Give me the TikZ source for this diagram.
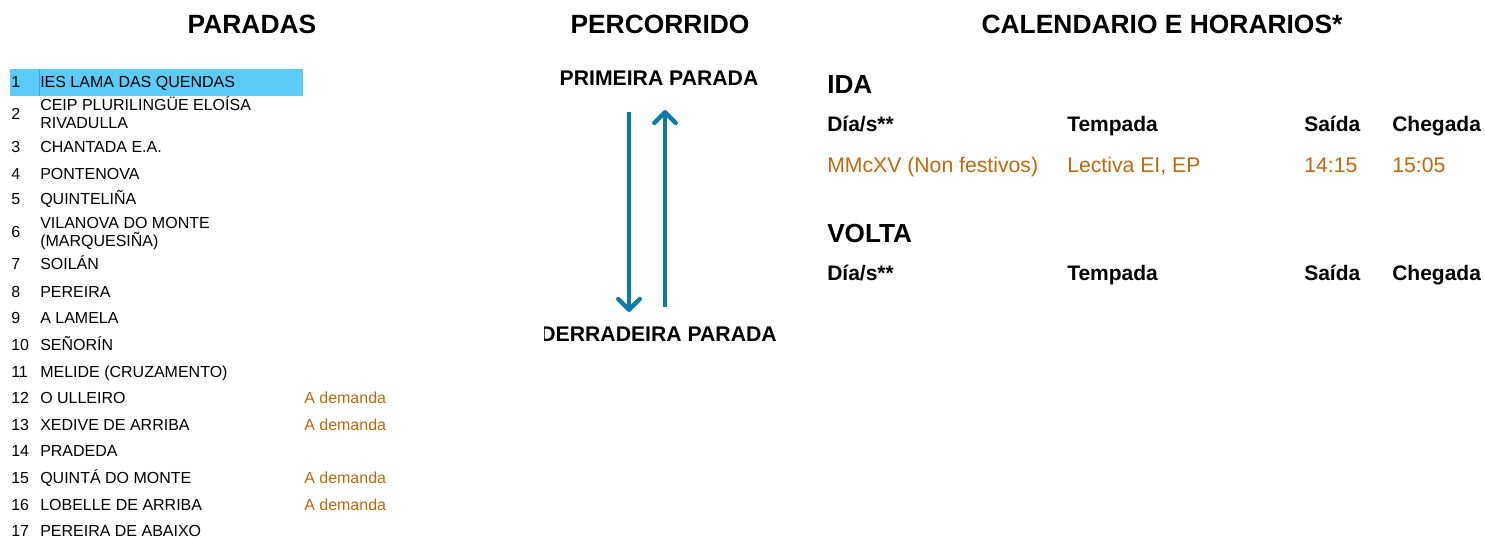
\documentclass[tikz,border=0pt]{standalone}
\usepackage{fontspec}
\setmainfont{Liberation Sans}
\usepackage{xcolor}
\usetikzlibrary{arrows.meta, positioning}
\definecolor{hiblue}{RGB}{91,203,250}
\definecolor{hiedge}{RGB}{60,170,225}
\definecolor{routeblue}{RGB}{14,123,166}
\definecolor{ondemand}{RGB}{184,106,16}
\tikzset{
    sectiontitle/.style={
        anchor=base,
        inner sep=0pt,
        font=\fontsize{19.8}{22}\selectfont\bfseries
    },
    heading/.style={
        anchor=base west,
        inner sep=0pt,
        font=\fontsize{19.6}{22}\selectfont\bfseries
    },
    endstop/.style={
        anchor=base,
        inner sep=0pt,
        font=\fontsize{15.9}{18}\selectfont\bfseries
    },
    stopnum/.style={
        anchor=base west,
        inner sep=0pt,
        font=\fontsize{12}{13.5}\selectfont
    },
    stopname/.style={
        anchor=base west,
        inner sep=0pt,
        align=left,
        font=\fontsize{12}{13.5}\selectfont
    },
    demand/.style={
        anchor=base west,
        inner sep=0pt,
        text=ondemand,
        font=\fontsize{12}{13.5}\selectfont
    },
    colhead/.style={
        anchor=base west,
        inner sep=0pt,
        font=\fontsize{15.75}{18}\selectfont\bfseries
    },
    cell/.style={
        anchor=base west,
        inner sep=0pt,
        text=ondemand,
        font=\fontsize{15.9}{18}\selectfont
    },
    route/.style={
        draw=routeblue,
        line width=3.4pt,
        -{Straight Barb[length=8pt,width=16pt,round]}
    }
}

\begin{document}
\begin{tikzpicture}[x=0.75pt, y=-0.75pt]
\useasboundingbox (0,0) rectangle (1485,538);

% Titles
\node[sectiontitle] (tparadas) at (252,33.5) {PARADAS};
\node[sectiontitle] (tpercorrido) at (660,33.5) {PERCORRIDO};
\node[sectiontitle] (tcalendario) at (1162,33.5) {CALENDARIO E HORARIOS*};

% Left: stops
\fill[hiblue] (10,69) rectangle (303,96);
\draw[hiedge, line width=0.6pt] (39,69) -- (39,96);

\node[stopnum] (n1) at (11,88) {1};
\node[stopname] (s1) at (40,88) {IES LAMA DAS QUENDAS};
\node[stopnum] (n2) at (11,120) {2};
\node[stopname] (s2) at (40,129) {CEIP PLURILINGÜE ELOÍSA\\RIVADULLA};
\node[stopnum] (n3) at (11,153) {3};
\node[stopname] (s3) at (40,153) {CHANTADA E.A.};
\node[stopnum] (n4) at (11,180) {4};
\node[stopname] (s4) at (40,180) {PONTENOVA};
\node[stopnum] (n5) at (11,205) {5};
\node[stopname] (s5) at (40,205) {QUINTELIÑA};
\node[stopnum] (n6) at (11,238) {6};
\node[stopname] (s6) at (40,247) {VILANOVA DO MONTE\\(MARQUESIÑA)};
\node[stopnum] (n7) at (11,270) {7};
\node[stopname] (s7) at (40,270) {SOILÁN};
\node[stopnum] (n8) at (11,297) {8};
\node[stopname] (s8) at (40,297) {PEREIRA};
\node[stopnum] (n9) at (11,324) {9};
\node[stopname] (s9) at (40,324) {A LAMELA};
\node[stopnum] (n10) at (11,350) {10};
\node[stopname] (s10) at (40,350) {SEÑORÍN};
\node[stopnum] (n11) at (11,377) {11};
\node[stopname] (s11) at (40,377) {MELIDE (CRUZAMENTO)};
\node[stopnum] (n12) at (11,403) {12};
\node[stopname] (s12) at (40,403) {O ULLEIRO};
\node[demand] (d12) at (304,403) {A demanda};
\node[stopnum] (n13) at (11,430) {13};
\node[stopname] (s13) at (40,430) {XEDIVE DE ARRIBA};
\node[demand] (d13) at (304,430) {A demanda};
\node[stopnum] (n14) at (11,456) {14};
\node[stopname] (s14) at (40,456) {PRADEDA};
\node[stopnum] (n15) at (11,483) {15};
\node[stopname] (s15) at (40,483) {QUINTÁ DO MONTE};
\node[demand] (d15) at (304,483) {A demanda};
\node[stopnum] (n16) at (11,510) {16};
\node[stopname] (s16) at (40,510) {LOBELLE DE ARRIBA};
\node[demand] (d16) at (304,510) {A demanda};
\node[stopnum] (n17) at (11,536) {17};
\node[stopname] (s17) at (40,536) {PEREIRA DE ABAIXO};

% Middle: route
\node[endstop] (first) at (659,86) {PRIMEIRA PARADA};
\begin{scope}
\clip (544,300) rectangle (800,360);
\node[endstop, anchor=base east] (last) at (777,341) {DERRADEIRA PARADA};
\end{scope}

\coordinate (godown) at (629,112);
\coordinate (goend) at (629,312);
\coordinate (backup) at (665,307);
\coordinate (backend) at (665,110);
\draw[route] (godown) -- (goend);
\draw[route] (backup) -- (backend);

% Right: timetable
\node[heading] (ida) at (827,94) {IDA};
\node[colhead] (hdia) at (827,132) {Día/s**};
\node[colhead] (htempada) at (1067,132) {Tempada};
\node[colhead] (hsaida) at (1304,132) {Saída};
\node[colhead] (hchegada) at (1392,132) {Chegada};
\node[cell] (cdia) at (827,173) {MMcXV (Non festivos)};
\node[cell] (ctempada) at (1067,173) {Lectiva EI, EP};
\node[cell] (csaida) at (1304,173) {14:15};
\node[cell] (cchegada) at (1392,173) {15:05};

\node[heading] (volta) at (827,243) {VOLTA};
\node[colhead] (vdia) at (827,281) {Día/s**};
\node[colhead] (vtempada) at (1067,281) {Tempada};
\node[colhead] (vsaida) at (1304,281) {Saída};
\node[colhead] (vchegada) at (1392,281) {Chegada};

\end{tikzpicture}
\end{document}
